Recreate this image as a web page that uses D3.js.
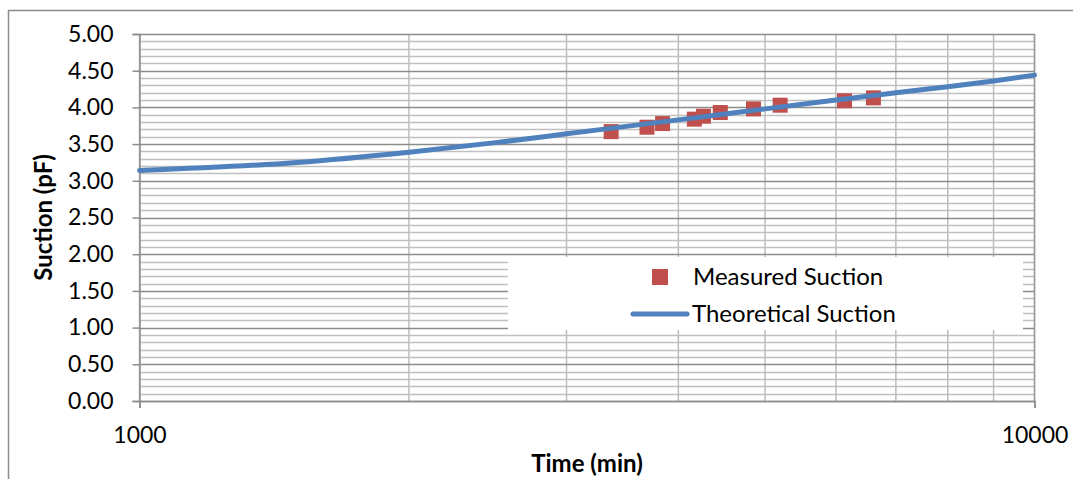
<!DOCTYPE html>
<html>
<head>
<meta charset="utf-8">
<script src="https://cdn.jsdelivr.net/npm/d3@7"></script>
<style>
  html, body { margin: 0; padding: 0; background: #fff; }
  svg { display: block; }
  text { font-family: Lato, "Open Sans", sans-serif; fill: #000; }
</style>
</head>
<body>
<svg id="chart" width="1073" height="479"></svg>
<script>
// ---- data ----
const measuredTime = [3365, 3690, 3841, 4168, 4267, 4456, 4853, 5198, 6134, 6608];
const measuredSuction = [3.67, 3.73, 3.78, 3.84, 3.88, 3.93, 3.98, 4.03, 4.09, 4.13];
const theoryTime = [1000, 1500, 2000, 2500, 3000, 4000, 5000, 6000, 7000, 8000, 9000, 10000];
const theorySuction = [3.14, 3.25, 3.39, 3.52, 3.64, 3.83, 3.98, 4.10, 4.20, 4.28, 4.36, 4.44];
const yTicks = [0, 0.5, 1, 1.5, 2, 2.5, 3, 3.5, 4, 4.5, 5];
const xLabelTicks = [1000, 10000];
const xGridTicks = [1000, 2000, 3000, 4000, 5000, 6000, 7000, 8000, 9000, 10000];
const seriesNames = ["Measured Suction", "Theoretical Suction"];

const svg = d3.select("#chart");
const x = d3.scaleLog().domain([1000, 10000]).range([139.5, 1034.5]);
const y = d3.scaleLinear().domain([0, 5]).range([401, 34]);

// outer chart border
svg.append("path")
  .attr("d", "M8.5,480 L8.5,10.5 L1080,10.5")
  .attr("fill", "none").attr("stroke", "#8c8c8c").attr("stroke-width", 1.5);

const g = svg.append("g");

// minor horizontal gridlines
const minor = d3.range(0, 50).map(i => i / 10).filter(v => Math.abs(v * 2 - Math.round(v * 2)) > 1e-6);
g.selectAll(".minor").data(minor).enter().append("line")
  .attr("x1", x(1000)).attr("x2", x(10000))
  .attr("y1", d => Math.round(y(d)) + 0.5).attr("y2", d => Math.round(y(d)) + 0.5)
  .attr("stroke", "#c0c0c0").attr("stroke-width", 1.5);

// vertical gridlines
g.selectAll(".vgrid").data(xGridTicks).enter().append("line")
  .attr("x1", d => x(d)).attr("x2", d => x(d))
  .attr("y1", y(5)).attr("y2", y(0))
  .attr("stroke", "#bdbdbd").attr("stroke-width", 1.5);

// major horizontal gridlines
g.selectAll(".major").data(yTicks).enter().append("line")
  .attr("x1", x(1000)).attr("x2", x(10000))
  .attr("y1", d => Math.round(y(d)) + 0.5).attr("y2", d => Math.round(y(d)) + 0.5)
  .attr("stroke", "#8c8c8c").attr("stroke-width", 1.5);

// right edge line
g.append("line").attr("x1", x(10000)).attr("x2", x(10000)).attr("y1", y(5)).attr("y2", y(0))
  .attr("stroke", "#9a9a9a").attr("stroke-width", 1.5);

// y axis
const yAxis = d3.axisLeft(y).tickValues(yTicks).tickFormat(d3.format(".2f")).tickSize(7).tickPadding(19);
const ya = svg.append("g").attr("transform", `translate(${x(1000)},0)`).call(yAxis);
ya.select(".domain").attr("stroke", "#8c8c8c").attr("stroke-width", 1.5);
ya.selectAll(".tick line").attr("stroke", "#8c8c8c").attr("stroke-width", 1.5);
ya.selectAll(".tick text").attr("font-size", 23).attr("font-family", "Lato, sans-serif").attr("fill", "#000");

// x axis
const xAxis = d3.axisBottom(x).tickValues(xLabelTicks).tickFormat(d3.format("d")).tickSize(7).tickPadding(19);
const xa = svg.append("g").attr("transform", `translate(0,${y(0)})`).call(xAxis);
xa.select(".domain").attr("stroke", "#8c8c8c").attr("stroke-width", 1.5);
xa.selectAll(".tick line").attr("stroke", "#8c8c8c").attr("stroke-width", 1.5);
xa.selectAll(".tick text").attr("font-size", 23).attr("font-family", "Lato, sans-serif").attr("fill", "#000");

// measured markers
const measured = measuredTime.map((t, i) => ({ t, v: measuredSuction[i] }));
svg.selectAll(".pt").data(measured).enter().append("rect")
  .attr("x", d => x(d.t) - 7.5).attr("y", d => y(d.v) - 7.5)
  .attr("width", 15).attr("height", 15)
  .attr("fill", "#C0504D");

// theoretical line
const theory = theoryTime.map((t, i) => ({ t, v: theorySuction[i] }));
svg.append("path").datum(theory)
  .attr("d", d3.line().x(d => x(d.t)).y(d => y(d.v)).curve(d3.curveMonotoneX))
  .attr("fill", "none").attr("stroke", "#4F81BD").attr("stroke-width", 5).attr("stroke-linecap", "round");

// legend
const lg = svg.append("g");
lg.append("rect").attr("x", 508).attr("y", 257).attr("width", 515).attr("height", 73).attr("fill", "#fff");
lg.append("rect").attr("x", 652).attr("y", 269).attr("width", 16).attr("height", 16).attr("fill", "#C0504D");
lg.append("line").attr("x1", 633).attr("x2", 687).attr("y1", 314).attr("y2", 314)
  .attr("stroke", "#4F81BD").attr("stroke-width", 5).attr("stroke-linecap", "round");
lg.append("text").attr("x", 693).attr("y", 285).attr("font-size", 24).text(seriesNames[0]);
lg.append("text").attr("x", 692).attr("y", 322).attr("font-size", 24).text(seriesNames[1]);

// axis titles
svg.append("text").attr("x", (x(1000) + x(10000)) / 2).attr("y", 472)
  .attr("text-anchor", "middle").attr("font-size", 24).attr("font-weight", "bold").text("Time (min)");
svg.append("text").attr("transform", `translate(52,${(y(0) + y(5)) / 2}) rotate(-90)`)
  .attr("text-anchor", "middle").attr("font-size", 24).attr("font-weight", "bold").text("Suction (pF)");
</script>
</body>
</html>
